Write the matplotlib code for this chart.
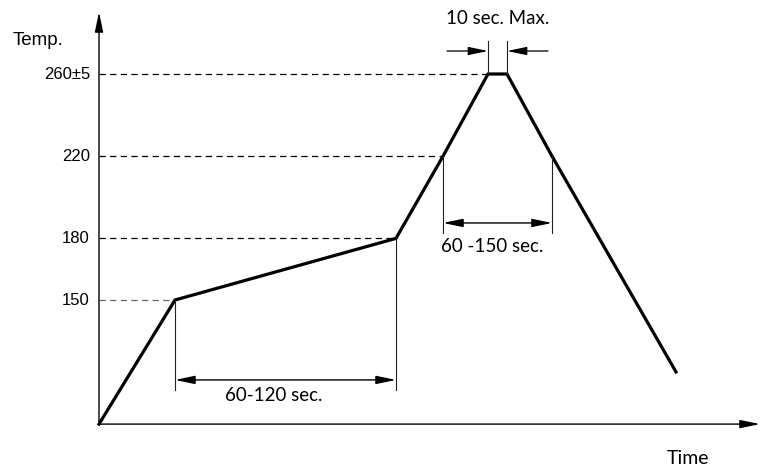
import matplotlib
matplotlib.use('Agg')
import matplotlib.pyplot as plt
from matplotlib.patches import FancyArrowPatch

# reflow profile (time in arbitrary units, temperature in deg C)
time = [0, 76, 297, 344, 389, 408, 453, 577]
temp = [89.6, 150, 180, 220, 260, 260, 220, 115]

# reference levels drawn as dashed guides
levels = [150, 180, 220, 260]
level_labels = ['150', '180', '220', '260\u00b15']
level_times = [76, 297, 344, 389]

# dimension annotations: (t_start, t_end, temp_start, temp_end, arrow_temp, text)
preheat = (76, 297, 150, 180, 111.1, '60-120 sec.')
reflow = (344, 453, 220, 220, 187.5, '60 -150 sec.')
peak = (389, 408, 260)

px_per_deg = 226 / 110.0
ymax = 260 + 74 / px_per_deg
ymin = 150 - 168 / px_per_deg

fig = plt.figure(figsize=(7.65, 4.68), dpi=100)
ax = fig.add_axes([0, 0, 1, 1])
ax.set_xlim(-99, 666)
ax.set_ylim(ymin, ymax)
ax.axis('off')

sans = 'Liberation Sans'
calib = 'Lato'
head = '-|>,head_length=1.2,head_width=0.25'

# axes with arrow heads
t0, T0 = time[0], temp[0]
ax.annotate('', xy=(t0, ymax - 12 / px_per_deg), xytext=(t0, T0),
            arrowprops=dict(arrowstyle=head, mutation_scale=10, lw=1.0,
                            color='black', shrinkA=0, shrinkB=0))
ax.annotate('', xy=(661, T0), xytext=(t0, T0),
            arrowprops=dict(arrowstyle=head, mutation_scale=10, lw=1.0,
                            color='black', shrinkA=0, shrinkB=0))

# dashed guide lines and labels
for lvl, lab, t in zip(levels, level_labels, level_times):
    col = '#666666' if lvl == 150 else 'black'
    ax.plot([t0, t], [lvl, lvl], color=col, lw=0.9, dashes=(5, 3.5))
    ax.text(t0 - 9, lvl, lab, ha='right', va='center', fontsize=12, family=sans)

ax.text(-86, 260 + 34 / px_per_deg, 'Temp.', ha='left', va='center',
        fontsize=13.5, family=sans)
ax.text(589, ymin + 10 / px_per_deg, 'Time', ha='center', va='center',
        fontsize=14, family=calib)

# profile curve
ax.plot(time, temp, color='black', lw=2.3, solid_joinstyle='miter')


def dim_arrow(ta, tb, ya, yb, yarr, text, dx, dy):
    yend = yarr - 10 / px_per_deg
    ax.plot([ta, ta], [ya, yend], color='#222222', lw=0.8)
    ax.plot([tb, tb], [yb, yend], color='#222222', lw=0.8)
    ax.add_patch(FancyArrowPatch((ta, yarr), (tb, yarr),
                                 arrowstyle='<|-|>,head_length=1.2,head_width=0.25',
                                 mutation_scale=10, lw=1.0, color='black',
                                 shrinkA=0, shrinkB=0))
    ax.text((ta + tb) / 2 + dx, yarr - dy / px_per_deg, text, ha='center',
            va='center', fontsize=13.5, family=calib)


dim_arrow(*preheat, -12, 16)
dim_arrow(*reflow, -5, 24)

# peak dwell
pa, pb, plevel = peak
ytop = plevel + 33 / px_per_deg
yarr = plevel + 23 / px_per_deg
ax.plot([pa, pa], [plevel, ytop], color='#222222', lw=0.8)
ax.plot([pb, pb], [plevel, ytop], color='#222222', lw=0.8)
ax.annotate('', xy=(pa, yarr), xytext=(pa - 41, yarr),
            arrowprops=dict(arrowstyle=head, mutation_scale=10, lw=0.9,
                            color='black', shrinkA=0, shrinkB=0))
ax.annotate('', xy=(pb, yarr), xytext=(pb + 41, yarr),
            arrowprops=dict(arrowstyle=head, mutation_scale=10, lw=0.9,
                            color='black', shrinkA=0, shrinkB=0))
ax.text((pa + pb) / 2, plevel + 56 / px_per_deg, '10 sec. Max.',
        ha='center', va='center', fontsize=13.5, family=calib)

fig.savefig('out.png', dpi=100)
